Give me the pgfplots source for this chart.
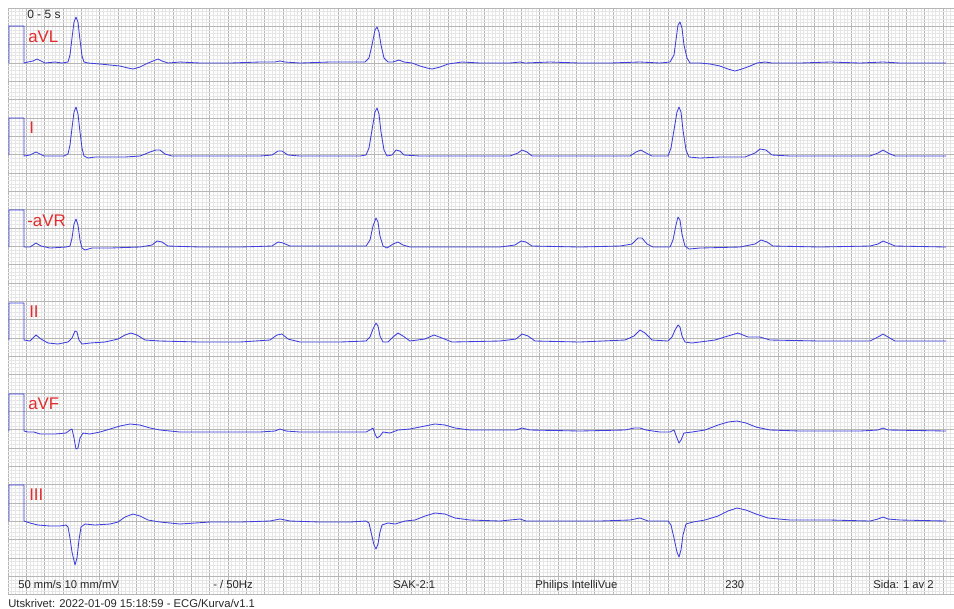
\documentclass[border=0pt]{standalone}
\usepackage{fontspec}
\setmainfont{Liberation Sans}
\usepackage{pgfplots}
\pgfplotsset{compat=1.18}

\definecolor{trace}{RGB}{62,62,222}
\definecolor{leadred}{RGB}{226,44,44}
\definecolor{gridmin}{RGB}{230,230,230}
\definecolor{gridmaj}{RGB}{182,182,182}

\begin{document}
\begin{tikzpicture}
% page = 954 x 608 px, 1 px = 0.25 mm; axis box is px [8,954] x [8,594.6]
\useasboundingbox (-2mm,-3.35mm) rectangle (236.5mm,148.65mm);
\clip (-2mm,-3.35mm) rectangle (236.5mm,148.65mm);
\begin{axis}[
    x=0.25mm, y=0.25mm,
    y dir=reverse,
    xmin=8, xmax=954, ymin=8, ymax=594.6,
    anchor=south west, at={(0,0)},
    clip=false,
    axis line style={draw=none},
    xtick={8,26.3333,...,955}, ytick={8,26.3333,...,595},
    minor xtick={8,11.6667,...,955}, minor ytick={8,11.6667,...,595},
    xticklabels={}, yticklabels={},
    major tick length=0pt, minor tick length=0pt,
    grid=both,
    minor grid style={gridmin, line width=0.4pt},
    major grid style={gridmaj, line width=0.55pt},
    ecg/.style={trace, no markers, solid, line width=0.6pt, line join=round},
]

% aVL
\addplot[ecg] coordinates {(9,63)(9,26)(24,26)(24,63)
 (28,62)(33,61)(37,59)(41,61)(45,63)(55,62)(62,63)(68,62)(70,55)(72,38)(74,22)(76,17)(78,22)(80,40)(82,56)(84,62)(88,63)
 (100,64)(110,65)(120,66)(128,68)(133,69)(140,67)(148,63)(153,61)(158,59)(162,61)(168,63)(180,62)(200,63)(230,63)(260,62)
 (275,62)(280,61)(285,62)(300,63)(330,62)(355,62)(365,62)(369,58)(372,45)(375,30)(377,27)(379,32)(381,45)(384,58)(388,62)
 (393,62)(399,60)(404,62)(412,63)(420,66)(427,68)(432,69)(440,67)(448,64)(455,63)(462,62)(480,63)(510,63)(520,62)(525,63)
 (550,62)(580,63)(610,63)(640,62)(660,63)(670,62)(674,55)(676,40)(678,25)(680,22)(682,28)(684,45)(687,58)(690,63)(700,63)
 (710,64)(720,66)(728,69)(735,71)(742,69)(750,66)(757,63)(765,62)(772,63)(800,63)(830,62)(860,63)(883,62)(900,63)(930,63)(946,63)};

% I
\addplot[ecg] coordinates {(9,155)(9,118)(24,118)(24,156)
 (30,155)(36,152)(40,154)(44,156)(55,156)(64,156)(68,154)(70,145)(72,128)(74,112)(76,107)(78,114)(80,132)(82,148)(84,156)
 (88,158)(95,157)(110,157)(125,157)(140,156)(150,152)(156,150)(160,150)(165,154)(172,156)(200,156)(230,156)(260,156)
 (272,155)(278,151)(282,151)(288,155)(300,156)(330,156)(360,156)(366,155)(369,148)(372,130)(375,112)(377,108)(379,114)
 (381,132)(384,150)(387,156)(392,155)(396,150)(400,151)(404,155)(420,156)(450,156)(480,156)(510,156)(518,153)(522,150)
 (527,152)(532,156)(560,156)(600,156)(630,156)(636,152)(641,150)(646,153)(652,156)(668,156)(671,148)(674,130)(677,112)
 (679,107)(681,112)(683,130)(686,150)(689,157)(700,158)(720,157)(745,157)(755,153)(760,149)(766,150)(772,155)(790,156)
 (830,156)(870,156)(878,153)(883,150)(888,153)(895,156)(920,156)(946,156)};

% -aVR
\addplot[ecg] coordinates {(9,247)(9,210)(24,210)(24,247)
 (30,247)(36,243)(41,246)(50,248)(66,247)(70,246)(72,238)(74,224)(76,219)(78,225)(80,240)(82,248)(85,250)(92,248)
 (110,248)(140,247)(152,245)(157,241)(162,242)(168,246)(200,247)(240,247)(272,246)(278,242)(283,243)(290,246)(330,246)
 (366,246)(370,240)(373,226)(376,218)(378,222)(380,236)(383,246)(387,248)(393,244)(398,242)(403,245)(410,247)(450,247)
 (500,247)(515,245)(521,241)(526,242)(532,246)(580,247)(620,246)(632,244)(638,238)(642,238)(647,244)(653,247)(670,247)
 (673,240)(676,225)(678,217)(680,220)(682,234)(685,246)(689,249)(700,248)(740,247)(755,244)(761,240)(767,242)(773,246)
 (820,247)(870,246)(878,244)(883,241)(888,243)(895,246)(946,247)};

% II
\addplot[ecg] coordinates {(9,340)(9,303)(24,303)(24,340)
 (30,341)(36,335)(41,339)(48,343)(58,344)(68,342)(72,338)(75,331)(77,332)(79,340)(82,344)(90,343)(105,342)(118,339)
 (125,335)(131,333)(137,335)(145,340)(160,341)(200,342)(240,342)(270,340)(277,335)(282,334)(288,339)(300,342)(340,342)
 (366,341)(370,337)(373,329)(376,323)(378,326)(380,336)(383,342)(388,342)(393,337)(398,333)(403,336)(410,341)(425,339)
 (434,335)(442,338)(452,342)(500,341)(516,339)(522,334)(528,336)(535,341)(580,342)(625,340)(634,336)(640,330)(645,333)
 (652,340)(668,341)(672,337)(675,330)(678,325)(680,327)(682,336)(685,342)(692,343)(715,340)(728,336)(738,333)(748,337)
 (760,337)(770,340)(820,341)(870,341)(878,337)(883,334)(888,337)(895,341)(946,341)};

% aVF
\addplot[ecg] coordinates {(9,431)(9,394)(24,394)(24,431)
 (28,432)(34,432)(40,434)(55,434)(66,433)(70,430)(72,429)(74,438)(76,449)(78,448)(80,438)(83,433)(90,434)(100,432)
 (110,429)(120,426)(130,424)(140,425)(150,428)(160,430)(180,432)(220,432)(260,432)(275,431)(280,429)(286,431)(300,432)
 (340,432)(366,432)(370,430)(373,428)(375,434)(377,438)(380,436)(383,432)(390,433)(398,430)(410,429)(425,426)(435,424)
 (445,425)(455,428)(470,430)(500,430)(516,430)(522,428)(530,430)(580,431)(625,430)(634,428)(640,428)(646,430)(660,432)
 (670,432)(674,430)(677,438)(679,443)(681,440)(684,433)(692,432)(705,430)(718,425)(728,422)(737,421)(746,423)(756,427)
 (770,430)(800,431)(860,431)(878,430)(883,428)(888,430)(946,431)};

% III
\addplot[ecg] coordinates {(9,521)(9,485)(24,485)(24,521)
 (30,523)(38,525)(50,526)(60,526)(66,525)(68,527)(70,538)(72,552)(75,565)(77,558)(79,540)(81,527)(85,524)(95,525)
 (110,524)(118,522)(125,517)(133,514)(140,516)(148,520)(160,522)(180,524)(210,522)(240,522)(270,521)(280,519)(290,521)
 (320,522)(350,522)(366,521)(369,523)(371,532)(374,545)(376,549)(378,544)(380,532)(382,525)(388,523)(395,524)(405,521)
 (415,520)(425,516)(435,513)(445,514)(455,518)(470,520)(500,521)(520,519)(526,521)(560,521)(600,521)(630,520)(640,518)
 (648,521)(668,521)(671,525)(674,538)(677,552)(679,557)(681,550)(683,535)(686,524)(693,522)(705,520)(718,516)(728,511)
 (737,508)(746,510)(756,514)(768,518)(790,520)(830,520)(870,521)(878,519)(883,517)(888,519)(900,520)(946,521)};

% lead names
\begin{scope}[every node/.style={anchor=base west, inner sep=0pt, text=leadred, font=\fontsize{12}{14}\selectfont}]
\node at (axis cs:28,42)  {aVL};
\node at (axis cs:29,133) {I};
\node at (axis cs:27,226) {-aVR};
\node at (axis cs:29,317) {II};
\node at (axis cs:28,409) {aVF};
\node at (axis cs:29,500) {III};
\end{scope}

% header and footer text
\begin{scope}[every node/.style={anchor=base west, inner sep=0pt, text=black!85, font=\fontsize{8}{9}\selectfont}]
\node[font=\fontsize{8.5}{10}\selectfont] at (axis cs:27,18) {0 - 5 s};
\node at (axis cs:18,588)  {50 mm/s 10 mm/mV};
\node at (axis cs:213,588) {- / 50Hz};
\node at (axis cs:393,588) {SAK-2:1};
\node at (axis cs:535,588) {Philips IntelliVue};
\node at (axis cs:725,588) {230};
\node at (axis cs:873,588) {Sida: 1 av 2};
\node at (axis cs:8,607)   {Utskrivet: 2022-01-09 15:18:59 - ECG/Kurva/v1.1};
\end{scope}
\end{axis}
\end{tikzpicture}
\end{document}
